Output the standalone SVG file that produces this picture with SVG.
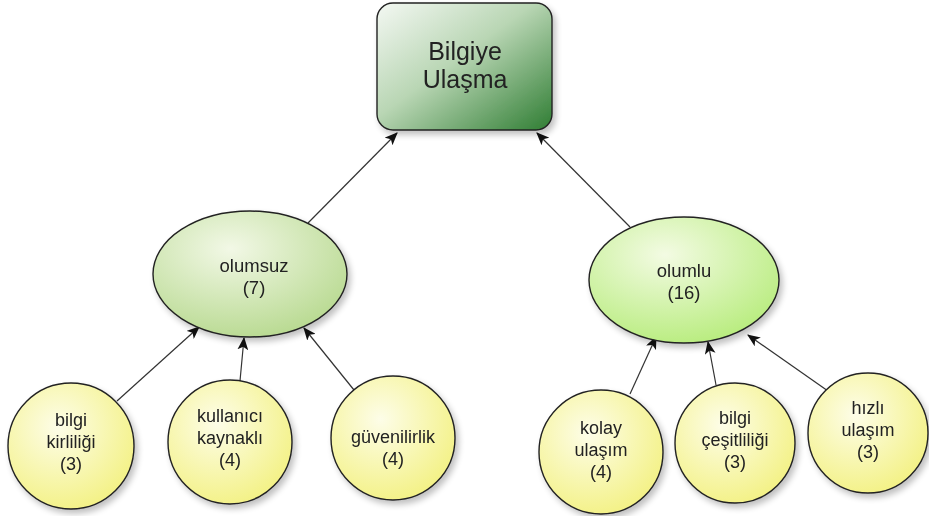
<svg xmlns="http://www.w3.org/2000/svg" width="929" height="516" viewBox="0 0 929 516">
<defs>
<linearGradient id="gBox" x1="0" y1="0" x2="1" y2="1">
<stop offset="0" stop-color="#f4f8f3"/>
<stop offset="0.45" stop-color="#b9d6b4"/>
<stop offset="1" stop-color="#2f7d33"/>
</linearGradient>
<radialGradient id="gEll1" cx="0.4" cy="0.3" r="0.75">
<stop offset="0" stop-color="#f2f8e6"/>
<stop offset="1" stop-color="#b7d98f"/>
</radialGradient>
<radialGradient id="gEll2" cx="0.4" cy="0.3" r="0.75">
<stop offset="0" stop-color="#f3fbe3"/>
<stop offset="1" stop-color="#b7ec7c"/>
</radialGradient>
<radialGradient id="gCir" cx="0.4" cy="0.35" r="0.7">
<stop offset="0" stop-color="#fdfde8"/>
<stop offset="1" stop-color="#f3f183"/>
</radialGradient>
<filter id="sh" x="-20%" y="-20%" width="150%" height="150%">
<feGaussianBlur in="SourceAlpha" stdDeviation="3"/>
<feOffset dx="3" dy="4"/>
<feComponentTransfer><feFuncA type="linear" slope="0.25"/></feComponentTransfer>
<feMerge><feMergeNode/><feMergeNode in="SourceGraphic"/></feMerge>
</filter>
<marker id="arr" viewBox="0 0 12 10" refX="11" refY="5" markerWidth="13" markerHeight="11" markerUnits="userSpaceOnUse" orient="auto">
<path d="M0,0 L12,5 L0,10 L3,5 Z" fill="#111"/>
</marker>
</defs>
<style>
.edge{stroke:#333;stroke-width:1.2;fill:none;marker-end:url(#arr)}
.node{stroke:#222;stroke-width:1.4}
text{font-family:"Liberation Sans",Arial,sans-serif;fill:#222;text-anchor:middle}
.s{font-size:18px}
.m{font-size:18.5px}
.l{font-size:25px}
</style>
<rect width="929" height="516" fill="#fff"/>
<g id="connectors">
<line class="edge" x1="308" y1="223" x2="397" y2="133"/>
<line class="edge" x1="630" y1="227" x2="537" y2="133"/>
<line class="edge" x1="117" y1="401" x2="199" y2="327"/>
<line class="edge" x1="240" y1="381" x2="244" y2="338"/>
<line class="edge" x1="354" y1="390" x2="304" y2="328"/>
<line class="edge" x1="630" y1="394" x2="656" y2="337"/>
<line class="edge" x1="716" y1="385" x2="708" y2="342"/>
<line class="edge" x1="828" y1="391" x2="748" y2="335"/>
</g>
<g id="bilgiye-ulasma" filter="url(#sh)">
<rect class="node" x="377" y="3" width="175" height="127" rx="16" fill="url(#gBox)"/>
<text class="l" x="465" y="60">Bilgiye</text>
<text class="l" x="465" y="88">Ulaşma</text>
</g>
<g id="olumsuz" filter="url(#sh)">
<ellipse class="node" cx="250" cy="274" rx="97" ry="63" fill="url(#gEll1)"/>
<text class="m" x="254" y="272">olumsuz</text>
<text class="m" x="254" y="294">(7)</text>
</g>
<g id="olumlu" filter="url(#sh)">
<ellipse class="node" cx="684" cy="280" rx="95" ry="63" fill="url(#gEll2)"/>
<text class="m" x="684" y="277">olumlu</text>
<text class="m" x="684" y="299">(16)</text>
</g>
<g id="bilgi-kirliligi" filter="url(#sh)">
<circle class="node" cx="71" cy="446" r="63" fill="url(#gCir)"/>
<text class="s" x="71" y="426">bilgi</text>
<text class="s" x="71" y="448">kirliliği</text>
<text class="s" x="71" y="470">(3)</text>
</g>
<g id="kullanici-kaynakli" filter="url(#sh)">
<circle class="node" cx="230" cy="442" r="62" fill="url(#gCir)"/>
<text class="s" x="230" y="422">kullanıcı</text>
<text class="s" x="230" y="444">kaynaklı</text>
<text class="s" x="230" y="466">(4)</text>
</g>
<g id="guvenilirlik" filter="url(#sh)">
<circle class="node" cx="393" cy="438" r="62" fill="url(#gCir)"/>
<text class="s" x="393" y="443">güvenilirlik</text>
<text class="s" x="393" y="465">(4)</text>
</g>
<g id="kolay-ulasim" filter="url(#sh)">
<circle class="node" cx="601" cy="452" r="62" fill="url(#gCir)"/>
<text class="s" x="601" y="434">kolay</text>
<text class="s" x="601" y="456">ulaşım</text>
<text class="s" x="601" y="478">(4)</text>
</g>
<g id="bilgi-cesitliligi" filter="url(#sh)">
<circle class="node" cx="735" cy="443" r="60" fill="url(#gCir)"/>
<text class="s" x="735" y="424">bilgi</text>
<text class="s" x="735" y="446">çeşitliliği</text>
<text class="s" x="735" y="468">(3)</text>
</g>
<g id="hizli-ulasim" filter="url(#sh)">
<circle class="node" cx="868" cy="433" r="60" fill="url(#gCir)"/>
<text class="s" x="868" y="414">hızlı</text>
<text class="s" x="868" y="436">ulaşım</text>
<text class="s" x="868" y="458">(3)</text>
</g>
</svg>
